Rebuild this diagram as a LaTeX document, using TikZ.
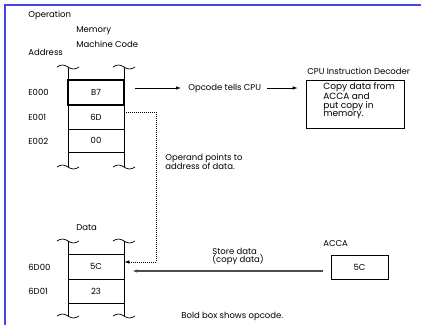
\documentclass[tikz,border=0pt]{standalone}
\usepackage{fontspec}
\setmainfont{Poppins}
\usetikzlibrary{arrows.meta,calc}
\definecolor{frameblue}{RGB}{70,70,225}
\newcommand{\colwave}[2]{\draw (#1-11,#2) sin (#1-5.5,#2-2) cos (#1,#2) sin (#1+5.5,#2+2) cos (#1+11,#2);}

\begin{document}
\begin{tikzpicture}[x=1pt,y=-1pt,line width=0.7pt,
  font=\fontsize{8.5}{8.8}\selectfont,
  cell/.style={draw,minimum width=56pt,minimum height=24pt,inner sep=0pt},
  lbl/.style={anchor=west,inner sep=0pt,align=left},
  arr/.style={-{Latex[length=5pt,width=3.5pt]}}]
  \useasboundingbox (0,0) rectangle (421,325);
  \draw[frameblue,line width=1.4pt] (5,325) -- (5,5) -- (421,5);

  % memory with the instruction
  \node[lbl] (oper) at (28,15) {Operation};
  \node[lbl] (memt) at (76,31) {Memory};
  \node[lbl] (mcode) at (76,44) {Machine Code};
  \node[lbl] (addr) at (28,52) {Address};
  \colwave{68}{67} \colwave{124}{67}
  \colwave{68}{167} \colwave{124}{167}
  \draw (68,67) -- (68,167); \draw (124,67) -- (124,167);
  \node[cell,minimum height=25pt,line width=1.4pt] (mb7) at (96,92.5) {B7};
  \node[cell] (m6d) at (96,117) {6D};
  \node[cell,minimum height=23pt] (m00) at (96,140.5) {00};
  \node[lbl] (ae000) at (28,92) {E000};
  \node[lbl] (ae001) at (28,117) {E001};
  \node[lbl] (ae002) at (28,141) {E002};

  % decoder
  \node[lbl] (optxt) at (188,88) {Opcode tells CPU};
  \node[lbl] (cput) at (307,71) {CPU Instruction Decoder};
  \node[draw,minimum width=98pt,minimum height=48pt] (cpu) at (355,104) {};
  \node[lbl,anchor=north west,font=\fontsize{9}{8.3}\selectfont] (cputxt) at (323,82.5) {Copy data from\\ACCA and\\put copy in\\memory.};
  \draw[arr] ([yshift=4.5pt,xshift=10pt]mb7.east) -- ([xshift=-7pt]optxt.west);
  \draw[arr] ([xshift=6pt]optxt.east) -- ($(optxt.east -| cpu.west)+(-8,0)$);

  % operand
  \node[lbl] (opnd) at (165,161.5) {Operand points to\\address of data.};

  % data memory
  \node[lbl] (datat) at (76,228) {Data};
  \colwave{68}{241} \colwave{124}{241}
  \colwave{68}{316} \colwave{124}{316}
  \draw (68,241) -- (68,316); \draw (124,241) -- (124,316);
  \node[cell,minimum height=25pt] (d5c) at (96,266.5) {5C};
  \node[cell] (d23) at (96,291) {23};
  \node[lbl] (a6d00) at (28,267) {6D00};
  \node[lbl] (a6d01) at (28,291) {6D01};
  \draw[arr,dash pattern=on 1pt off 1pt] ([yshift=5pt]m6d.east) -- ++(32,0) |- ([yshift=4.5pt]d5c.east);

  % accumulator
  \node[lbl] (accat) at (323,244) {ACCA};
  \node[draw,minimum width=57pt,minimum height=24pt] (acca) at (359.5,267) {5C};
  \node[lbl] (stxt) at (212,256.5) {Store data\\(copy data)};
  \draw[arr,line width=1.2pt,black!70] ([yshift=-4pt,xshift=-8pt]acca.west) -- ([yshift=-4.5pt,xshift=8pt]d5c.east);

  \node[lbl] (boldn) at (181,316) {Bold box shows opcode.};
\end{tikzpicture}
\end{document}
